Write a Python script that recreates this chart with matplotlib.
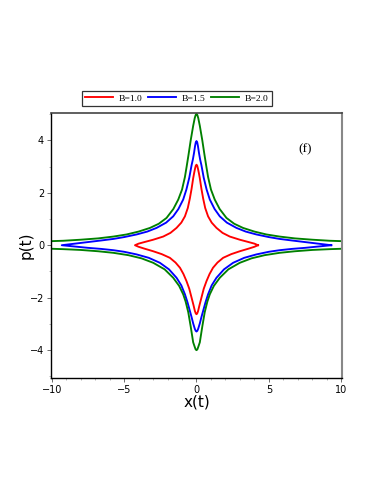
import numpy as np
import matplotlib.pyplot as plt
import matplotlib as mpl
from matplotlib.ticker import MultipleLocator

mpl.rcParams['font.family'] = 'DejaVu Sans'

# right half of each closed orbit (left half is the mirror image)
# upper / lower branch: x from 0 out to the turning point
red_up_x = [0.0, 0.05, 0.1, 0.16, 0.23, 0.34, 0.46, 0.6, 0.8, 1.05, 1.38, 1.8, 2.3, 2.99, 3.6, 4.0, 4.25]
red_up_p = [3.07, 3.03, 2.92, 2.76, 2.55, 2.15, 1.78, 1.42, 1.1, 0.86, 0.66, 0.47, 0.33, 0.21, 0.12, 0.06, 0.0]
red_lo_x = [0.0, 0.05, 0.11, 0.2, 0.34, 0.5, 0.69, 0.9, 1.14, 1.45, 1.84, 2.4, 2.99, 3.6, 4.0, 4.25]
red_lo_p = [-2.63, -2.6, -2.51, -2.3, -2.0, -1.66, -1.37, -1.1, -0.86, -0.66, -0.48, -0.34, -0.23, -0.13, -0.06, 0.0]

blue_up_x = [0.0, 0.05, 0.1, 0.17, 0.25, 0.34, 0.5, 0.7, 0.92, 1.25, 1.61, 2.1, 2.76, 3.4, 4.14, 5.0, 5.74, 6.6, 7.5, 8.4, 9.31]
blue_up_p = [3.97, 3.92, 3.78, 3.52, 3.27, 3.05, 2.57, 2.12, 1.74, 1.38, 1.1, 0.86, 0.66, 0.52, 0.41, 0.31, 0.24, 0.18, 0.12, 0.06, 0.0]
blue_lo_x = [0.0, 0.06, 0.12, 0.23, 0.34, 0.46, 0.62, 0.8, 1.05, 1.38, 1.9, 2.53, 3.3, 4.14, 5.0, 5.74, 6.6, 7.5, 8.4, 9.31]
blue_lo_p = [-3.29, -3.26, -3.18, -2.98, -2.74, -2.5, -2.18, -1.87, -1.53, -1.24, -0.92, -0.67, -0.48, -0.35, -0.25, -0.19, -0.14, -0.1, -0.05, 0.0]

green_up_x = [0.0, 0.06, 0.12, 0.23, 0.4, 0.55, 0.68, 0.8, 1.0, 1.26, 1.6, 2.07, 2.6, 3.21, 4.0, 4.83, 5.74, 6.8, 8.0, 9.2, 10.3]
green_up_p = [5.01, 4.96, 4.85, 4.55, 4.0, 3.45, 3.0, 2.6, 2.12, 1.74, 1.38, 1.04, 0.82, 0.66, 0.52, 0.41, 0.33, 0.26, 0.21, 0.17, 0.15]
green_lo_x = [0.0, 0.06, 0.12, 0.23, 0.4, 0.57, 0.75, 0.92, 1.2, 1.61, 2.2, 2.99, 3.8, 4.7, 5.74, 6.8, 8.0, 9.2, 10.3]
green_lo_p = [-4.0, -3.97, -3.88, -3.7, -3.1, -2.55, -2.15, -1.87, -1.55, -1.24, -0.92, -0.67, -0.5, -0.38, -0.29, -0.23, -0.18, -0.15, -0.13]

labels = ['B=1.0', 'B=1.5', 'B=2.0']
colors = ['#ff0000', '#0000ff', '#008000']


def closed_orbit(ux, up, lx, lp):
    ux, up, lx, lp = map(np.asarray, (ux, up, lx, lp))
    # upper right -> upper left -> lower left -> lower right
    x = np.concatenate([ux[::-1], -ux[1:], -lx[::-1], lx[1:]])
    p = np.concatenate([up[::-1], up[1:], lp[::-1], lp[1:]])
    return x, p


fig = plt.figure(figsize=(3.74, 4.84), dpi=100)
ax = fig.add_axes([0.1364, 0.2196, 0.778, 0.5475])

curves = [
    (red_up_x, red_up_p, red_lo_x, red_lo_p),
    (blue_up_x, blue_up_p, blue_lo_x, blue_lo_p),
    (green_up_x, green_up_p, green_lo_x, green_lo_p),
]
for (ux, up, lx, lp), c, lab in zip(curves, colors, labels):
    x, p = closed_orbit(ux, up, lx, lp)
    ax.plot(x, p, color=c, lw=1.35, label=lab, solid_joinstyle='round')

ax.set_xlim(-10.05, 10.05)
ax.set_ylim(-5.05, 5.05)
ax.set_xticks([-10, -5, 0, 5, 10])
ax.set_yticks([-4, -2, 0, 2, 4])
ax.xaxis.set_minor_locator(MultipleLocator(1))
ax.yaxis.set_minor_locator(MultipleLocator(1))
ax.tick_params(which='major', length=3, width=0.6, labelsize=7, pad=2, color='#555555')
ax.tick_params(which='minor', length=1.5, width=0.5, color='#999999')

for s in ['left', 'bottom']:
    ax.spines[s].set_color('black')
    ax.spines[s].set_linewidth(1.0)
ax.spines['top'].set_color('#444444')
ax.spines['top'].set_linewidth(1.2)
ax.spines['right'].set_color('#888888')
ax.spines['right'].set_linewidth(1.5)

ax.set_xlabel('x(t)', fontsize=11, labelpad=0)
ax.set_ylabel('p(t)', fontsize=11, labelpad=-3)

ax.text(7.47, 3.64, '(f)', fontsize=9.5, family='Liberation Serif', ha='center', va='center')

leg = fig.legend(loc='center', bbox_to_anchor=(0.4724, 0.7965), ncol=3, frameon=True, fancybox=False,
                 edgecolor='black', prop={'family': 'Liberation Serif', 'size': 6.8},
                 handlelength=2.95, handletextpad=0.63, columnspacing=0.55, borderpad=0.35)
leg.get_frame().set_linewidth(0.9)

fig.savefig('out.png', dpi=100)
